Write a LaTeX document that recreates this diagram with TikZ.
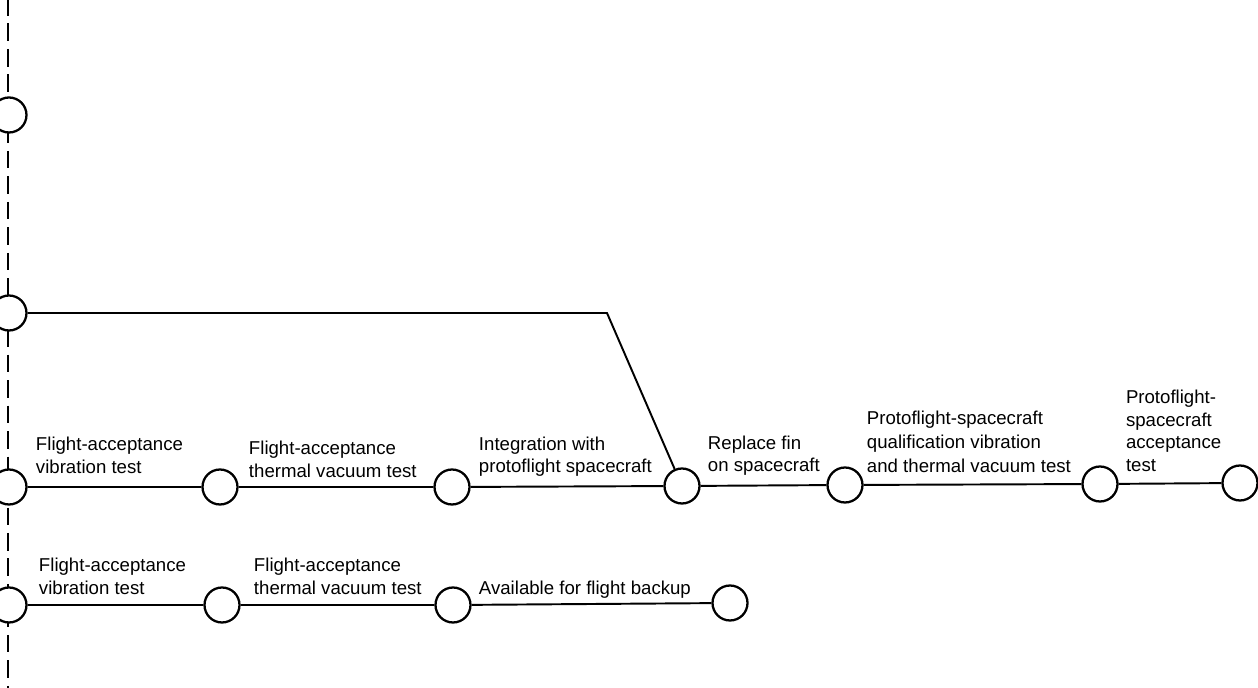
\documentclass[tikz,border=0pt]{standalone}
\usepackage{fontspec}
\setmainfont{Liberation Sans}
\usetikzlibrary{calc}
\tikzset{
	evt/.style={circle, draw, line width=1.3pt, minimum size=0.7cm, inner sep=0pt, fill=white},
	link/.style={line width=1.1pt},
	lbl/.style={anchor=south west, inner sep=0pt, align=left, font=\fontsize{10.6}{12.8}\selectfont}
}

\begin{document}
\begin{tikzpicture}[x=0.02cm, y=-0.02cm]
				\useasboundingbox (0, 0) rectangle (1258, 688);
				
				\draw[line width=1.1pt, dash pattern=on 10pt off 4.5pt] (8, -2) -- (8, 690);
				
				\node[evt] (u1) at (9, 115) {};
				\node[evt] (u2) at (9, 313) {};
				\coordinate (bend) at (607, 313);
				
				\node[evt] (p0) at (9, 487) {};
				\node[evt] (p1) at (220, 487) {};
				\node[evt] (p2) at (452, 487) {};
				\node[evt] (p3) at (682, 486) {};
				\node[evt] (p4) at (845, 485) {};
				\node[evt] (p5) at (1100, 484) {};
				\node[evt] (p6) at (1240, 483) {};
				
				\node[evt] (bk0) at (9, 605) {};
				\node[evt] (bk1) at (222, 605) {};
				\node[evt] (bk2) at (453, 605) {};
				\node[evt] (bk3) at (730, 603) {};
				
				\draw[link] (u2) -- (bend) -- (p3);
				\draw[link] (p0) -- (p1) -- (p2) -- (p3) -- (p4) -- (p5) -- (p6);
				\draw[link] (bk0) -- (bk1) -- (bk2) -- (bk3);
				
				\node[lbl] (t1) at ([shift={(8,-13)}]p0.east) {Flight-acceptance\\vibration test};
				\node[lbl] (t2) at ([shift={(10,-9)}]p1.east) {Flight-acceptance\\thermal vacuum test};
				\node[lbl] (t3) at ([shift={(8,-10)}]p2.east) {Integration with\\protoflight spacecraft};
				\node[lbl] (t4) at ([shift={(7,-10)}]p3.east) {Replace fin\\on spacecraft};
				\node[lbl, font=\fontsize{10.6}{13.6}\selectfont] (t5) at ([shift={(3,-12)}]p4.east) {Protoflight-spacecraft\\qualification vibration\\and thermal vacuum test};
				\node[lbl] (t6) at ([shift={(7,-12)}]p5.east) {Protoflight-\\spacecraft\\acceptance\\test};
				
				\node[lbl] (b1) at ([shift={(11,-10)}]bk0.east) {Flight-acceptance\\vibration test};
				\node[lbl] (b2) at ([shift={(13,-10)}]bk1.east) {Flight-acceptance\\thermal vacuum test};
				\node[lbl] (b3) at ([shift={(7,-6)}]bk2.east) {Available for flight backup};
\end{tikzpicture}
\end{document}
